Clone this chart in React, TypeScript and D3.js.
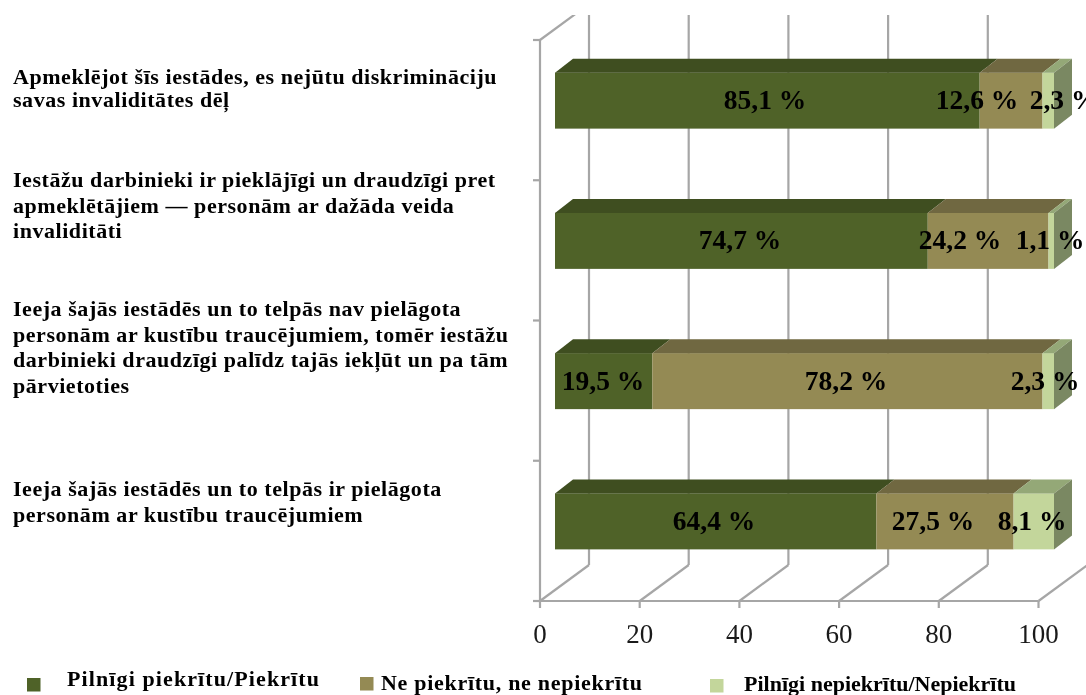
import React from "react";
import * as d3 from "d3";

const seriesNames = ["Pilnīgi piekrītu/Piekrītu", "Ne piekrītu, ne nepiekrītu", "Pilnīgi nepiekrītu/Nepiekrītu"];
const rowKeys = ["r1", "r2", "r3", "r4"];
const agree = [85.1, 74.7, 19.5, 64.4];
const neutral = [12.6, 24.2, 78.2, 27.5];
const disagree = [2.3, 1.1, 2.3, 8.1];
const xTicks = [0, 20, 40, 60, 80, 100];
const categoryLines = [
  ["Apmeklējot šīs iestādes, es nejūtu diskrimināciju", "savas invaliditātes dēļ"],
  ["Iestāžu darbinieki ir pieklājīgi un draudzīgi pret", "apmeklētājiem — personām ar dažāda veida", "invaliditāti"],
  ["Ieeja šajās iestādēs un to telpās nav pielāgota", "personām ar kustību traucējumiem, tomēr iestāžu", "darbinieki draudzīgi palīdz tajās iekļūt un pa tām", "pārvietoties"],
  ["Ieeja šajās iestādēs un to telpās ir pielāgota", "personām ar kustību traucējumiem"],
];

// Layout only: where the source picture placed things
const categoryBaselines = [[84, 107], [187, 213, 238], [316, 342, 367, 393], [496, 522]];
const labelCentres = [[765, 977, 1064], [740, 960, 1050], [603, 846, 1045], [714, 933, 1032]];
const frontColors = ["#4f6228", "#948a54", "#c3d69b"];
const topColors = ["#3f4e20", "#706841", "#94a877"];
const sideColor = "#7a8862";
const gridColor = "#a6a6a6";
const legendLayout = [
  { sx: 27, sy: 678, tx: 67, ty: 686, w: 252 },
  { sx: 360, sy: 677, tx: 381, ty: 690, w: 261 },
  { sx: 710, sy: 679, tx: 744, ty: 691, w: 272 },
];
const floorY = 601, topY = 40, clipTop = 15;
const backDx = 49, backDy = -36;
const barDx = 18, barDy = -14;
const barHeight = 56;

const SERIF = "'Liberation Serif', 'Times New Roman', serif";

export default function App() {
  const axisX = d3.scaleLinear().domain([0, 100]).range([540, 1038.5]);
  const barX = d3.scaleLinear().domain([0, 100]).range([555, 1054]);
  const bandY = d3.scaleBand<string>().domain(rowKeys).range([topY, floorY]);
  const table = rowKeys.map((k, i) => ({ k, a: agree[i], b: neutral[i], c: disagree[i] }));
  const stacked = d3.stack<any>().keys(["a", "b", "c"])(table);
  const barTop = (i: number) => (bandY(rowKeys[i]) as number) + bandY.bandwidth() / 2 - 10 - barHeight / 2 + 0.5;
  const poly = (pts: [number, number][]) => pts.map((p) => p.join(",")).join(" ");

  return (
    <svg width={1086} height={695} viewBox="0 0 1086 695"
      style={{ position: "absolute", left: 0, top: 0, background: "#fff", filter: "blur(0.4px)" }}>
      <defs>
        <clipPath id="plotClip"><rect x={0} y={clipTop} width={1086} height={680} /></clipPath>
      </defs>
      <g clipPath="url(#plotClip)" fill="none" stroke={gridColor} strokeWidth={2.2}>
        {xTicks.map((t) => {
          const x = axisX(t);
          return (
            <g key={t}>
              <line x1={x} y1={floorY} x2={x + backDx} y2={floorY + backDy} />
              {t < 100 && <line x1={x + backDx} y1={floorY + backDy} x2={x + backDx} y2={clipTop} />}
              <line x1={x} y1={floorY} x2={x} y2={floorY + 7} />
            </g>
          );
        })}
        <line x1={axisX(0)} y1={floorY} x2={axisX(100)} y2={floorY} />
        <line x1={axisX(0)} y1={floorY} x2={axisX(0)} y2={topY} />
        <line x1={axisX(0)} y1={topY} x2={axisX(0) + backDx} y2={topY + backDy} />
        {[...rowKeys.map((k) => bandY(k) as number), floorY].map((y) => (
          <line key={y} x1={axisX(0) - 7} y1={y} x2={axisX(0)} y2={y} />
        ))}
      </g>

      {rowKeys.map((k, i) => {
        const y = barTop(i);
        const right = barX(100);
        return (
          <g key={k}>
            {stacked.map((s, j) => {
              const x0 = barX(s[i][0]);
              const x1 = barX(s[i][1]);
              return (
                <g key={j}>
                  <rect x={x0} y={y} width={x1 - x0} height={barHeight} fill={frontColors[j]} />
                  <polygon fill={topColors[j]}
                    points={poly([[x0, y], [x0 + barDx, y + barDy], [x1 + barDx, y + barDy], [x1, y]])} />
                </g>
              );
            })}
            <polygon fill={sideColor}
              points={poly([[right, y], [right + barDx, y + barDy], [right + barDx, y + barHeight + barDy], [right, y + barHeight]])} />
          </g>
        );
      })}

      <g fontFamily={SERIF} fontSize={27.5} fontWeight="bold" fill="#000" textAnchor="middle">
        {rowKeys.map((k, i) =>
          [agree[i], neutral[i], disagree[i]].map((v, j) => (
            <text key={k + j} x={labelCentres[i][j]} y={barTop(i) + barHeight / 2 + 8.5}>
              {d3.format(".1f")(v).replace(".", ",")} %
            </text>
          ))
        )}
      </g>

      <g fontFamily={SERIF} fontSize={27} fill="#1a1a1a" textAnchor="middle">
        {xTicks.map((t) => (
          <text key={t} x={axisX(t)} y={643}>{t}</text>
        ))}
      </g>

      <g fontFamily={SERIF} fontSize={22} fontWeight="bold" fill="#000" letterSpacing={0.55}>
        {categoryLines.map((lines, i) =>
          lines.map((l, j) => (
            <text key={i + "-" + j} x={13} y={categoryBaselines[i][j]}>{l}</text>
          ))
        )}
      </g>

      <g fontFamily={SERIF} fontSize={22} fontWeight="bold" fill="#000">
        {seriesNames.map((n, i) => (
          <g key={n}>
            <rect x={legendLayout[i].sx} y={legendLayout[i].sy} width={13.5} height={13.5} fill={frontColors[i]} />
            <text x={legendLayout[i].tx} y={legendLayout[i].ty} textLength={legendLayout[i].w} lengthAdjust="spacing">{n}</text>
          </g>
        ))}
      </g>
    </svg>
  );
}
